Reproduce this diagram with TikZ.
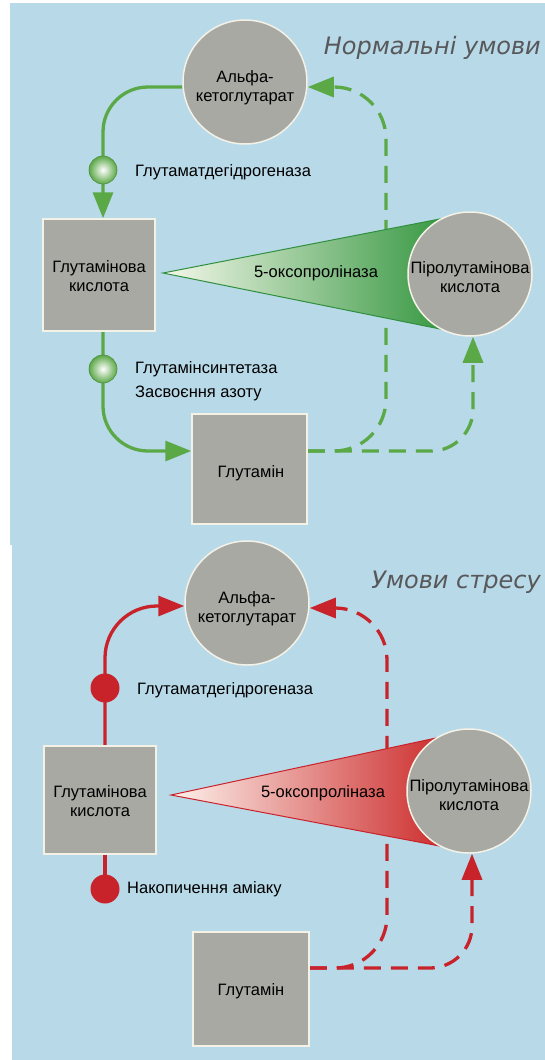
\documentclass[tikz,border=0pt]{standalone}
\usepackage{fontspec}
\setmainfont{Liberation Sans}
\newfontfamily\titlefont{DejaVu Sans}
\usetikzlibrary{arrows.meta,shadings}
\definecolor{bgblue}{HTML}{B8D9E8}
\definecolor{nodegray}{HTML}{A9A9A4}
\definecolor{rimcol}{HTML}{F4F1E6}
\definecolor{grn}{HTML}{5BA847}
\definecolor{grndark}{HTML}{2F8F3E}
\definecolor{grntri}{HTML}{33963F}
\definecolor{grnpale}{HTML}{F5F8EA}
\definecolor{rd}{HTML}{C8232B}
\definecolor{rdtri}{HTML}{CB2828}
\definecolor{rdpale}{HTML}{FDF2EC}
\definecolor{titlegray}{HTML}{58585A}
\pgfdeclarelayer{back}
\pgfdeclarelayer{lines}
\pgfsetlayers{back,lines,main}
\tikzset{
  circ/.style={circle, draw=rimcol, line width=1.5pt, fill=nodegray, minimum size=124pt, inner sep=0pt},
  sq/.style={rectangle, draw=rimcol, line width=1.5pt, fill=nodegray, inner sep=0pt},
  lbl/.style={font=\fontsize{16.5}{19}\selectfont, align=center, inner sep=0pt},
  ttl/.style={font=\titlefont\itshape\fontsize{24}{28}\selectfont, text=titlegray, anchor=east, inner sep=0pt},
  gline/.style={draw=grn, line width=3.3pt},
  garr/.style={gline, -{Triangle[length=26pt,width=20pt]}},
  gdash/.style={garr, dash pattern=on 17pt off 10pt},
  rline/.style={draw=rd, line width=3.3pt},
  rarr/.style={rline, -{Triangle[length=26pt,width=20pt]}},
  rdash/.style={rarr, dash pattern=on 17pt off 10pt},
  gball/.style={circle, minimum size=28pt, inner sep=0pt, inner color=white, outer color=grn, draw=grn!85!black, line width=0.6pt},
  rball/.style={circle, minimum size=29pt, inner sep=0pt, fill=rd},
}
\begin{document}
\begin{tikzpicture}[x=1pt,y=-1pt]
\useasboundingbox (0,0) rectangle (545,1060);
\begin{pgfonlayer}{back}
\fill[white] (0,0) rectangle (545,1060);
\fill[bgblue] (10,3) rectangle (545,545);
\fill[bgblue] (12,545) rectangle (545,1060);
\end{pgfonlayer}

% ---------- top panel ----------
\coordinate (apex1) at (163,273);
\coordinate (tt1) at (450,217);
\coordinate (tb1) at (450,331);
\shade[left color=grnpale, right color=grntri] (apex1) -- (tt1) -- (tb1) -- cycle;
\draw[grndark, line width=1pt] (tt1) -- (apex1) -- (tb1);

\node[circ] (alpha1) at (245,82) {};
\node[lbl] (alpha1t) at (245,88) {Альфа-\\кетоглутарат};
\node[circ] (pyro1) at (470,274) {};
\node[lbl] (pyro1t) at (470,277) {Піролутамінова\\кислота};
\node[sq, minimum width=112pt, minimum height=112pt] (glu1) at (99,275) {};
\node[lbl] (glu1t) at (99,276) {Глутамінова\\кислота};
\node[sq, minimum width=115pt, minimum height=110pt] (gln1) at (249.5,469) {};
\node[lbl] (gln1t) at (251,473) {Глутамін};
\node[lbl] (ox1) at (316,273) {5-оксопроліназа};
\node[ttl] (title1) at (541,48) {Нормальні умови};

\coordinate (d1a) at (386,451);
\coordinate (d1b) at (386,87);
\begin{pgfonlayer}{lines}
\draw[garr, rounded corners=45pt] ([yshift=-5pt]alpha1.west) -| ([xshift=4pt]glu1.north);
\draw[garr, rounded corners=45pt] ([xshift=4pt]glu1.south) |- ([yshift=18pt]gln1.west);
\draw[gdash, rounded corners=52pt] ([yshift=18pt]gln1.east) -- (d1a) -- (d1b) -- ([yshift=-5pt]alpha1.east);
\draw[gdash, rounded corners=42pt] ([yshift=18pt]gln1.east) -| ([xshift=3pt]pyro1.south);
\end{pgfonlayer}

\node[gball] (gb1) at (103,170) {};
\node[lbl, anchor=west] (gb1t) at (135,172) {Глутаматдегідрогеназа};
\node[gball] (gb2) at (103,369) {};
\node[lbl, anchor=west] (gb2t) at (135,369) {Глутамінсинтетаза};
\node[lbl, anchor=west] (gb2u) at (135,393) {Засвоєння азоту};

% ---------- bottom panel ----------
\coordinate (apex2) at (171,795);
\coordinate (tt2) at (450,735);
\coordinate (tb2) at (450,848);
\shade[left color=rdpale, right color=rdtri] (apex2) -- (tt2) -- (tb2) -- cycle;
\draw[rd, line width=1pt] (tt2) -- (apex2) -- (tb2);

\node[circ] (alpha2) at (247,603) {};
\node[lbl] (alpha2t) at (247,609) {Альфа-\\кетоглутарат};
\node[circ] (pyro2) at (469,791) {};
\node[lbl] (pyro2t) at (469,795) {Піролутамінова\\кислота};
\node[sq, minimum width=112pt, minimum height=108pt] (glu2) at (100,800) {};
\node[lbl] (glu2t) at (100,801) {Глутамінова\\кислота};
\node[sq, minimum width=116pt, minimum height=114pt] (gln2) at (251,989) {};
\node[lbl] (gln2t) at (251,991) {Глутамін};
\node[lbl] (ox2) at (323,793) {5-оксопроліназа};
\node[ttl] (title2) at (541,582) {Умови стресу};

\coordinate (d2a) at (387,968);
\coordinate (d2b) at (387,608);
\coordinate (rb2pt) at (105,889);
\begin{pgfonlayer}{lines}
\draw[rarr, rounded corners=52pt] ([xshift=5pt]glu2.north) |- ([yshift=-3pt]alpha2.west);
\draw[rline] ([xshift=5pt]glu2.south) -- (rb2pt);
\draw[rdash, rounded corners=52pt] ([yshift=21pt]gln2.east) -- (d2a) -- (d2b) -- ([yshift=-5pt]alpha2.east);
\draw[rdash, rounded corners=42pt] ([yshift=21pt]gln2.east) -| ([xshift=3pt]pyro2.south);
\end{pgfonlayer}

\node[rball] (rb1) at (105,688) {};
\node[lbl, anchor=west] (rb1t) at (137,690) {Глутаматдегідрогеназа};
\node[rball] (rb2) at (rb2pt) {};
\node[lbl, anchor=west] (rb2t) at (127,889) {Накопичення аміаку};
\end{tikzpicture}
\end{document}
